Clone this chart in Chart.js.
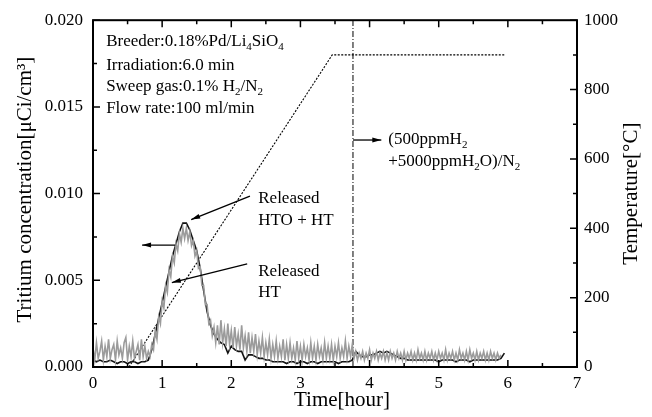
<!DOCTYPE html>
<html>
<head>
<meta charset="utf-8">
<script src="https://cdn.jsdelivr.net/npm/chart.js@4.4.1/dist/chart.umd.min.js"></script>
<style>
  body { margin: 0; background: #fff; }
  #wrap { width: 652px; height: 417px; position: relative; }
</style>
</head>
<body>
<div id="wrap"><canvas id="releaseChart"></canvas></div>
<script>
// time axis of the HTO + HT trace [hour]
var hours = [
  0.00, 0.05, 0.10, 0.15, 0.20, 0.25, 0.30, 0.35, 0.40, 0.45,
  0.50, 0.55, 0.60, 0.65, 0.70, 0.75, 0.80, 0.85, 0.90, 0.95,
  1.00, 1.05, 1.10, 1.15, 1.20, 1.25, 1.30, 1.35, 1.40, 1.45,
  1.50, 1.55, 1.60, 1.65, 1.70, 1.75, 1.80, 1.85, 1.90, 1.95,
  2.00, 2.05, 2.10, 2.15, 2.20, 2.25, 2.30, 2.35, 2.40, 2.45,
  2.50, 2.55, 2.60, 2.65, 2.70, 2.75, 2.80, 2.85, 2.90, 2.95,
  3.00, 3.05, 3.10, 3.15, 3.20, 3.25, 3.30, 3.35, 3.40, 3.45,
  3.50, 3.55, 3.60, 3.65, 3.70, 3.75, 3.80, 3.85, 3.90, 3.95,
  4.00, 4.05, 4.10, 4.15, 4.20, 4.25, 4.30, 4.35, 4.40, 4.45,
  4.50, 4.55, 4.60, 4.65, 4.70, 4.75, 4.80, 4.85, 4.90, 4.95,
  5.00, 5.05, 5.10, 5.15, 5.20, 5.25, 5.30, 5.35, 5.40, 5.45,
  5.50, 5.55, 5.60, 5.65, 5.70, 5.75, 5.80, 5.85, 5.90, 5.95
];

// released HTO + HT [uCi/cm3] (black)
var htoHt = [
  0.0004, 0.0003, 0.0004, 0.0003, 0.0003, 0.0004, 0.0003, 0.0002, 0.0003, 0.0003,
  0.0002, 0.0003, 0.0003, 0.0002, 0.0003, 0.0003, 0.0004, 0.0010, 0.0019, 0.0028,
  0.0037, 0.0046, 0.0055, 0.0064, 0.0071, 0.0078, 0.0083, 0.0083, 0.0079, 0.0073,
  0.0067, 0.0057, 0.0044, 0.0032, 0.0024, 0.0019, 0.0016, 0.0014, 0.0013, 0.0008,
  0.0012, 0.0010, 0.0009, 0.0009, 0.0004, 0.0007, 0.0007, 0.0006, 0.0005, 0.0005,
  0.0004, 0.0004, 0.0003, 0.0003, 0.0003, 0.0003, 0.0002, 0.0003, 0.0003, 0.0002,
  0.0003, 0.0003, 0.0002, 0.0003, 0.0003, 0.0002, 0.0003, 0.0003, 0.0003, 0.0003,
  0.0003, 0.0002, 0.0003, 0.0003, 0.0003, 0.0004, 0.0009, 0.0007, 0.0006, 0.0006,
  0.0007, 0.0007, 0.0008, 0.0009, 0.0008, 0.0009, 0.0008, 0.0007, 0.0006, 0.0005,
  0.0005, 0.0004, 0.0004, 0.0004, 0.0004, 0.0004, 0.0004, 0.0004, 0.0004, 0.0004,
  0.0003, 0.0004, 0.0004, 0.0004, 0.0004, 0.0003, 0.0004, 0.0004, 0.0004, 0.0003,
  0.0004, 0.0004, 0.0004, 0.0004, 0.0004, 0.0004, 0.0004, 0.0004, 0.0005, 0.0008
];

// time axis of the HT trace [hour], finer sampling
var htHours = [
  0.000, 0.025, 0.050, 0.075, 0.100, 0.125, 0.150, 0.175,
  0.200, 0.225, 0.250, 0.275, 0.300, 0.325, 0.350, 0.375,
  0.400, 0.425, 0.450, 0.475, 0.500, 0.525, 0.550, 0.575,
  0.600, 0.625, 0.650, 0.675, 0.700, 0.725, 0.750, 0.775,
  0.800, 0.825, 0.850, 0.875, 0.900, 0.925, 0.950, 0.975,
  1.000, 1.025, 1.050, 1.075, 1.100, 1.125, 1.150, 1.175,
  1.200, 1.225, 1.250, 1.275, 1.300, 1.325, 1.350, 1.375,
  1.400, 1.425, 1.450, 1.475, 1.500, 1.525, 1.550, 1.575,
  1.600, 1.625, 1.650, 1.675, 1.700, 1.725, 1.750, 1.775,
  1.800, 1.825, 1.850, 1.875, 1.900, 1.925, 1.950, 1.975,
  2.000, 2.025, 2.050, 2.075, 2.100, 2.125, 2.150, 2.175,
  2.200, 2.225, 2.250, 2.275, 2.300, 2.325, 2.350, 2.375,
  2.400, 2.425, 2.450, 2.475, 2.500, 2.525, 2.550, 2.575,
  2.600, 2.625, 2.650, 2.675, 2.700, 2.725, 2.750, 2.775,
  2.800, 2.825, 2.850, 2.875, 2.900, 2.925, 2.950, 2.975,
  3.000, 3.025, 3.050, 3.075, 3.100, 3.125, 3.150, 3.175,
  3.200, 3.225, 3.250, 3.275, 3.300, 3.325, 3.350, 3.375,
  3.400, 3.425, 3.450, 3.475, 3.500, 3.525, 3.550, 3.575,
  3.600, 3.625, 3.650, 3.675, 3.700, 3.725, 3.750, 3.775,
  3.800, 3.825, 3.850, 3.875, 3.900, 3.925, 3.950, 3.975,
  4.000, 4.025, 4.050, 4.075, 4.100, 4.125, 4.150, 4.175,
  4.200, 4.225, 4.250, 4.275, 4.300, 4.325, 4.350, 4.375,
  4.400, 4.425, 4.450, 4.475, 4.500, 4.525, 4.550, 4.575,
  4.600, 4.625, 4.650, 4.675, 4.700, 4.725, 4.750, 4.775,
  4.800, 4.825, 4.850, 4.875, 4.900, 4.925, 4.950, 4.975,
  5.000, 5.025, 5.050, 5.075, 5.100, 5.125, 5.150, 5.175,
  5.200, 5.225, 5.250, 5.275, 5.300, 5.325, 5.350, 5.375,
  5.400, 5.425, 5.450, 5.475, 5.500, 5.525, 5.550, 5.575,
  5.600, 5.625, 5.650, 5.675, 5.700, 5.725, 5.750, 5.775,
  5.800, 5.825, 5.850, 5.875, 5.900
];

// released HT [uCi/cm3] (grey)
var ht = [
  0.0011, 0.0004, 0.0014, 0.0005, 0.0009, 0.0015, 0.0004, 0.0012,
  0.0006, 0.0016, 0.0005, 0.0010, 0.0013, 0.0004, 0.0015, 0.0007,
  0.0011, 0.0005, 0.0014, 0.0017, 0.0004, 0.0012, 0.0006, 0.0015,
  0.0005, 0.0009, 0.0013, 0.0004, 0.0016, 0.0006, 0.0012, 0.0005,
  0.0009, 0.0006, 0.0013, 0.0010, 0.0021, 0.0016, 0.0029, 0.0025,
  0.0038, 0.0034, 0.0047, 0.0043, 0.0056, 0.0052, 0.0064, 0.0060,
  0.0071, 0.0067, 0.0077, 0.0072, 0.0080, 0.0074, 0.0080, 0.0073,
  0.0078, 0.0070, 0.0073, 0.0064, 0.0067, 0.0057, 0.0058, 0.0047,
  0.0047, 0.0036, 0.0036, 0.0025, 0.0027, 0.0018, 0.0023, 0.0014,
  0.0024, 0.0013, 0.0027, 0.0014, 0.0022, 0.0012, 0.0025, 0.0013,
  0.0021, 0.0011, 0.0023, 0.0012, 0.0019, 0.0010, 0.0024, 0.0011,
  0.0018, 0.0009, 0.0020, 0.0008, 0.0017, 0.0009, 0.0019, 0.0007,
  0.0015, 0.0008, 0.0017, 0.0006, 0.0014, 0.0007, 0.0016, 0.0005,
  0.0013, 0.0006, 0.0015, 0.0005, 0.0012, 0.0006, 0.0016, 0.0004,
  0.0013, 0.0005, 0.0014, 0.0005, 0.0011, 0.0004, 0.0015, 0.0005,
  0.0012, 0.0004, 0.0013, 0.0006, 0.0011, 0.0004, 0.0014, 0.0005,
  0.0012, 0.0004, 0.0013, 0.0006, 0.0011, 0.0004, 0.0014, 0.0005,
  0.0012, 0.0005, 0.0013, 0.0004, 0.0012, 0.0006, 0.0014, 0.0005,
  0.0011, 0.0006, 0.0015, 0.0005, 0.0012, 0.0006, 0.0013, 0.0005,
  0.0009, 0.0004, 0.0008, 0.0005, 0.0009, 0.0004, 0.0008, 0.0005,
  0.0010, 0.0004, 0.0008, 0.0005, 0.0009, 0.0004, 0.0008, 0.0005,
  0.0009, 0.0004, 0.0008, 0.0004, 0.0009, 0.0005, 0.0008, 0.0004,
  0.0009, 0.0005, 0.0008, 0.0004, 0.0009, 0.0004, 0.0008, 0.0005,
  0.0009, 0.0004, 0.0008, 0.0004, 0.0010, 0.0005, 0.0008, 0.0004,
  0.0009, 0.0004, 0.0008, 0.0005, 0.0009, 0.0004, 0.0008, 0.0004,
  0.0009, 0.0005, 0.0008, 0.0004, 0.0010, 0.0004, 0.0008, 0.0005,
  0.0009, 0.0004, 0.0008, 0.0004, 0.0010, 0.0005, 0.0008, 0.0004,
  0.0009, 0.0004, 0.0010, 0.0005, 0.0008, 0.0004, 0.0009, 0.0004,
  0.0008, 0.0005, 0.0009, 0.0004, 0.0008, 0.0004, 0.0009, 0.0005,
  0.0008, 0.0004, 0.0008, 0.0005, 0.0007
];

// furnace temperature program
var tempHours = [0.52, 3.46, 5.96];
var tempValues = [0, 900, 900];

// sweep gas switched at this time
var switchHour = 3.76;

var xTicks = [0, 1, 2, 3, 4, 5, 6, 7];
var concTicks = [0, 0.005, 0.010, 0.015, 0.020];
var tempTicks = [0, 200, 400, 600, 800, 1000];

var serif = '"Liberation Serif", "Times New Roman", serif';

function toPoints(xs, ys) {
    var pts = [];
    for (var i = 0; i < ys.length; i++) pts.push({x: xs[i], y: ys[i]});
    return pts;
}

function useTicks(list) {
    return function(scale) {
        scale.ticks = list.map(function(v) { return {value: v}; });
    };
}

function richText(ctx, parts, x, y, size) {
    var cx = x;
    parts.forEach(function(p) {
        var sub = p[1];
        ctx.font = (sub ? Math.round(size * 0.65) : size) + 'px ' + serif;
        ctx.fillText(p[0], cx, sub ? y + size * 0.3 : y);
        cx += ctx.measureText(p[0]).width;
    });
}

function arrow(ctx, x1, y1, x2, y2) {
    ctx.beginPath();
    ctx.moveTo(x1, y1);
    ctx.lineTo(x2, y2);
    ctx.stroke();
    var a = Math.atan2(y2 - y1, x2 - x1), len = 9, w = 2.5;
    ctx.beginPath();
    ctx.moveTo(x2, y2);
    ctx.lineTo(x2 - len * Math.cos(a) + w * Math.sin(a), y2 - len * Math.sin(a) - w * Math.cos(a));
    ctx.lineTo(x2 - len * Math.cos(a) - w * Math.sin(a), y2 - len * Math.sin(a) + w * Math.cos(a));
    ctx.closePath();
    ctx.fill();
}

// frame, inward ticks, axis titles and notes
var decorPlugin = {
    id: 'decor',
    afterDraw: function(chart) {
        var ctx = chart.ctx;
        var a = chart.chartArea;
        var sx = chart.scales.x, sy = chart.scales.y, st = chart.scales.temp;
        ctx.save();
        ctx.strokeStyle = '#000';
        ctx.fillStyle = '#000';

        ctx.lineWidth = 2;
        ctx.strokeRect(a.left, a.top, a.right - a.left, a.bottom - a.top);

        ctx.lineWidth = 1.5;
        ctx.beginPath();
        for (var t = 0; t <= 7; t += 0.5) {
            var px = sx.getPixelForValue(t);
            var len = (t % 1 === 0) ? 7 : 4;
            ctx.moveTo(px, a.bottom); ctx.lineTo(px, a.bottom - len);
            ctx.moveTo(px, a.top); ctx.lineTo(px, a.top + len);
        }
        for (var c = 0; c <= 0.02001; c += 0.0025) {
            var py = sy.getPixelForValue(c);
            var l2 = (Math.round(c / 0.0025) % 2 === 0) ? 7 : 4;
            ctx.moveTo(a.left, py); ctx.lineTo(a.left + l2, py);
        }
        for (var d = 0; d <= 1000; d += 100) {
            var py2 = st.getPixelForValue(d);
            var l3 = (d % 200 === 0) ? 7 : 4;
            ctx.moveTo(a.right, py2); ctx.lineTo(a.right - l3, py2);
        }
        ctx.stroke();

        // axis titles
        ctx.textBaseline = 'middle';
        ctx.textAlign = 'center';
        ctx.font = '21px ' + serif;
        ctx.fillText('Time[hour]', (a.left + a.right) / 2 + 7, 400);

        ctx.save();
        ctx.translate(25, (a.top + a.bottom) / 2 - 4);
        ctx.rotate(-Math.PI / 2);
        ctx.fillText('Tritium concentration[\u03bcCi/cm\u00b3]', 0, 0);
        ctx.restore();

        ctx.save();
        ctx.translate(631, (a.top + a.bottom) / 2);
        ctx.rotate(-Math.PI / 2);
        ctx.fillText('Temperature[\u00b0C]', 0, 0);
        ctx.restore();

        // notes
        ctx.textAlign = 'left';
        var X = function(v) { return sx.getPixelForValue(v); };
        var Y = function(v) { return sy.getPixelForValue(v); };
        var fs = 17;
        var x0 = X(0.19);
        richText(ctx, [['Breeder:0.18%Pd/Li', 0], ['4', 1], ['SiO', 0], ['4', 1]], x0, Y(0.01875), fs);
        richText(ctx, [['Irradiation:6.0 min', 0]], x0, Y(0.01739), fs);
        richText(ctx, [['Sweep gas:0.1% H', 0], ['2', 1], ['/N', 0], ['2', 1]], x0, Y(0.01615), fs);
        richText(ctx, [['Flow rate:100 ml/min', 0]], x0, Y(0.0149), fs);

        richText(ctx, [['Released', 0]], X(2.39), Y(0.00969), fs);
        richText(ctx, [['HTO + HT', 0]], X(2.39), Y(0.00844), fs);
        richText(ctx, [['Released', 0]], X(2.39), Y(0.0055), fs);
        richText(ctx, [['HT', 0]], X(2.39), Y(0.00431), fs);
        richText(ctx, [['(500ppmH', 0], ['2', 1]], X(4.27), Y(0.01309), fs);
        richText(ctx, [['+5000ppmH', 0], ['2', 1], ['O)/N', 0], ['2', 1]], X(4.27), Y(0.01184), fs);

        ctx.lineWidth = 1.3;
        arrow(ctx, X(2.27), Y(0.00986), X(1.42), Y(0.0085));
        arrow(ctx, X(2.23), Y(0.00595), X(1.14), Y(0.00487));
        arrow(ctx, X(1.19), Y(0.00703), X(0.71), Y(0.00703));
        arrow(ctx, X(switchHour), Y(0.01309), X(4.17), Y(0.01309));

        ctx.restore();
    }
};

var ctx = document.getElementById('releaseChart').getContext('2d');
var releaseChart = new Chart(ctx, {
    type: 'line',
    data: {
        datasets: [{
            label: 'Released HT',
            data: toPoints(htHours, ht),
            borderColor: '#9b9b9b',
            borderWidth: 1.6,
            pointRadius: 0,
            yAxisID: 'y',
            order: 0
        }, {
            label: 'Released HTO + HT',
            data: toPoints(hours, htoHt),
            borderColor: '#111',
            borderWidth: 1.6,
            pointRadius: 0,
            yAxisID: 'y',
            order: 1
        }, {
            label: 'Temperature',
            data: toPoints(tempHours, tempValues),
            borderColor: '#000',
            borderWidth: 1.1,
            borderDash: [2, 1.5],
            pointRadius: 0,
            yAxisID: 'temp',
            order: 2
        }, {
            label: 'Gas switch',
            data: [{x: switchHour, y: 0}, {x: switchHour, y: 0.02}],
            borderColor: '#000',
            borderWidth: 1,
            borderDash: [6, 2, 1, 2],
            pointRadius: 0,
            yAxisID: 'y',
            order: 3
        }]
    },
    options: {
        responsive: true,
        maintainAspectRatio: false,
        animation: false,
        layout: { padding: { top: 14, left: 0, right: 0, bottom: 0 } },
        plugins: {
            legend: { display: false },
            tooltip: { enabled: false }
        },
        scales: {
            x: {
                type: 'linear',
                min: 0,
                max: 7,
                afterBuildTicks: useTicks(xTicks),
                afterFit: function(s) { s.height = 50; },
                grid: { display: false, drawTicks: false },
                border: { display: false },
                ticks: { color: '#000', padding: 6, font: { family: serif, size: 17 } }
            },
            y: {
                position: 'left',
                min: 0,
                max: 0.02,
                afterBuildTicks: useTicks(concTicks),
                afterFit: function(s) { s.width = 93; },
                grid: { display: false, drawTicks: false },
                border: { display: false },
                ticks: {
                    color: '#000',
                    padding: 10,
                    font: { family: serif, size: 17 },
                    callback: function(v) { return v.toFixed(3); }
                }
            },
            temp: {
                position: 'right',
                min: 0,
                max: 1000,
                afterBuildTicks: useTicks(tempTicks),
                afterFit: function(s) { s.width = 75; },
                grid: { display: false, drawTicks: false },
                border: { display: false },
                ticks: {
                    color: '#000',
                    padding: 7,
                    font: { family: serif, size: 17 },
                    callback: function(v) { return String(v); }
                }
            }
        }
    },
    plugins: [decorPlugin]
});
</script>
</body>
</html>
